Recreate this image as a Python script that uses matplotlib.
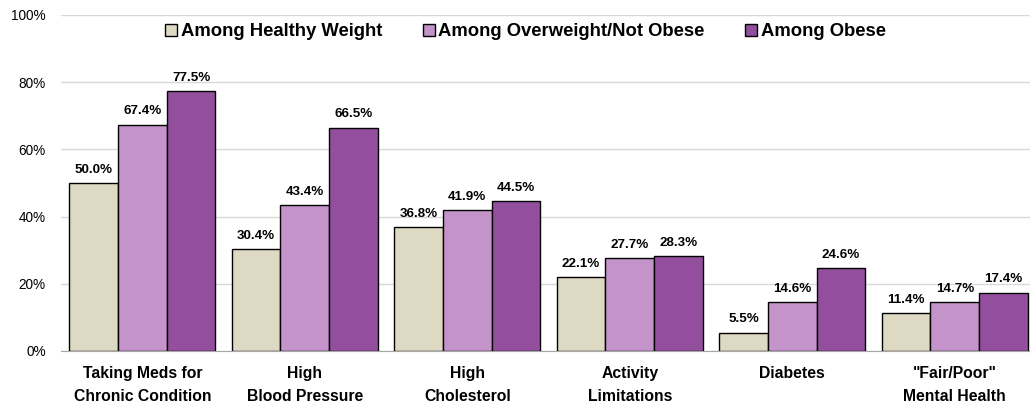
import numpy as np
import matplotlib.pyplot as plt

plt.rcParams['font.family'] = ['Liberation Sans', 'DejaVu Sans']

categories = ['Taking Meds for\nChronic Condition', 'High\nBlood Pressure', 'High\nCholesterol',
              'Activity\nLimitations', 'Diabetes', '"Fair/Poor"\nMental Health']
series_names = ['Among Healthy Weight', 'Among Overweight/Not Obese', 'Among Obese']
healthy = [50.0, 30.4, 36.8, 22.1, 5.5, 11.4]
overweight = [67.4, 43.4, 41.9, 27.7, 14.6, 14.7]
obese = [77.5, 66.5, 44.5, 28.3, 24.6, 17.4]
colors = ['#DDD9C3', '#C393C9', '#934F9E']

fig = plt.figure(figsize=(10.3, 4.07), dpi=100)
ax = fig.add_axes([61 / 1030, 1 - 351 / 407, 1 - 61 / 1030, (351 - 15) / 407])

x = np.arange(len(categories))
w = 0.3
for i, (vals, name, c) in enumerate(zip([healthy, overweight, obese], series_names, colors)):
    bars = ax.bar(x + (i - 1) * w, vals, w, color=c, edgecolor='black', linewidth=1,
                  label=name, zorder=3)
    for b, v in zip(bars, vals):
        ax.text(b.get_x() + b.get_width() / 2, v + 3, f'{v:.1f}%', ha='center', va='baseline',
                fontsize=9.6, fontweight='bold')

ax.set_ylim(0, 100)
ax.set_xlim(-0.5, 5.463)
ax.set_yticks(range(0, 101, 20))
ax.set_yticklabels([f'{t}%' for t in range(0, 101, 20)], fontsize=9.8)
ax.set_xticks(x)
ax.set_xticklabels(categories, fontsize=11.3, fontweight='bold', linespacing=1.65)
ax.tick_params(axis='both', length=0)
ax.tick_params(axis='y', pad=11)
ax.tick_params(axis='x', pad=11)
ax.grid(axis='y', color='#D9D9D9', linewidth=1, zorder=0)
for s in ['top', 'right', 'left']:
    ax.spines[s].set_visible(False)
ax.spines['bottom'].set_color('#A6A6A6')
ax.spines['bottom'].set_zorder(4)

leg = fig.legend(loc='center left', bbox_to_anchor=(165 / 1030, 1 - 32 / 407), ncol=3,
                 frameon=False, prop={'size': 13.3, 'weight': 'bold'},
                 handlelength=0.65, handleheight=0.65, handletextpad=0.2,
                 columnspacing=2.2, borderpad=0, borderaxespad=0)

fig.savefig('out.png', dpi=100)
